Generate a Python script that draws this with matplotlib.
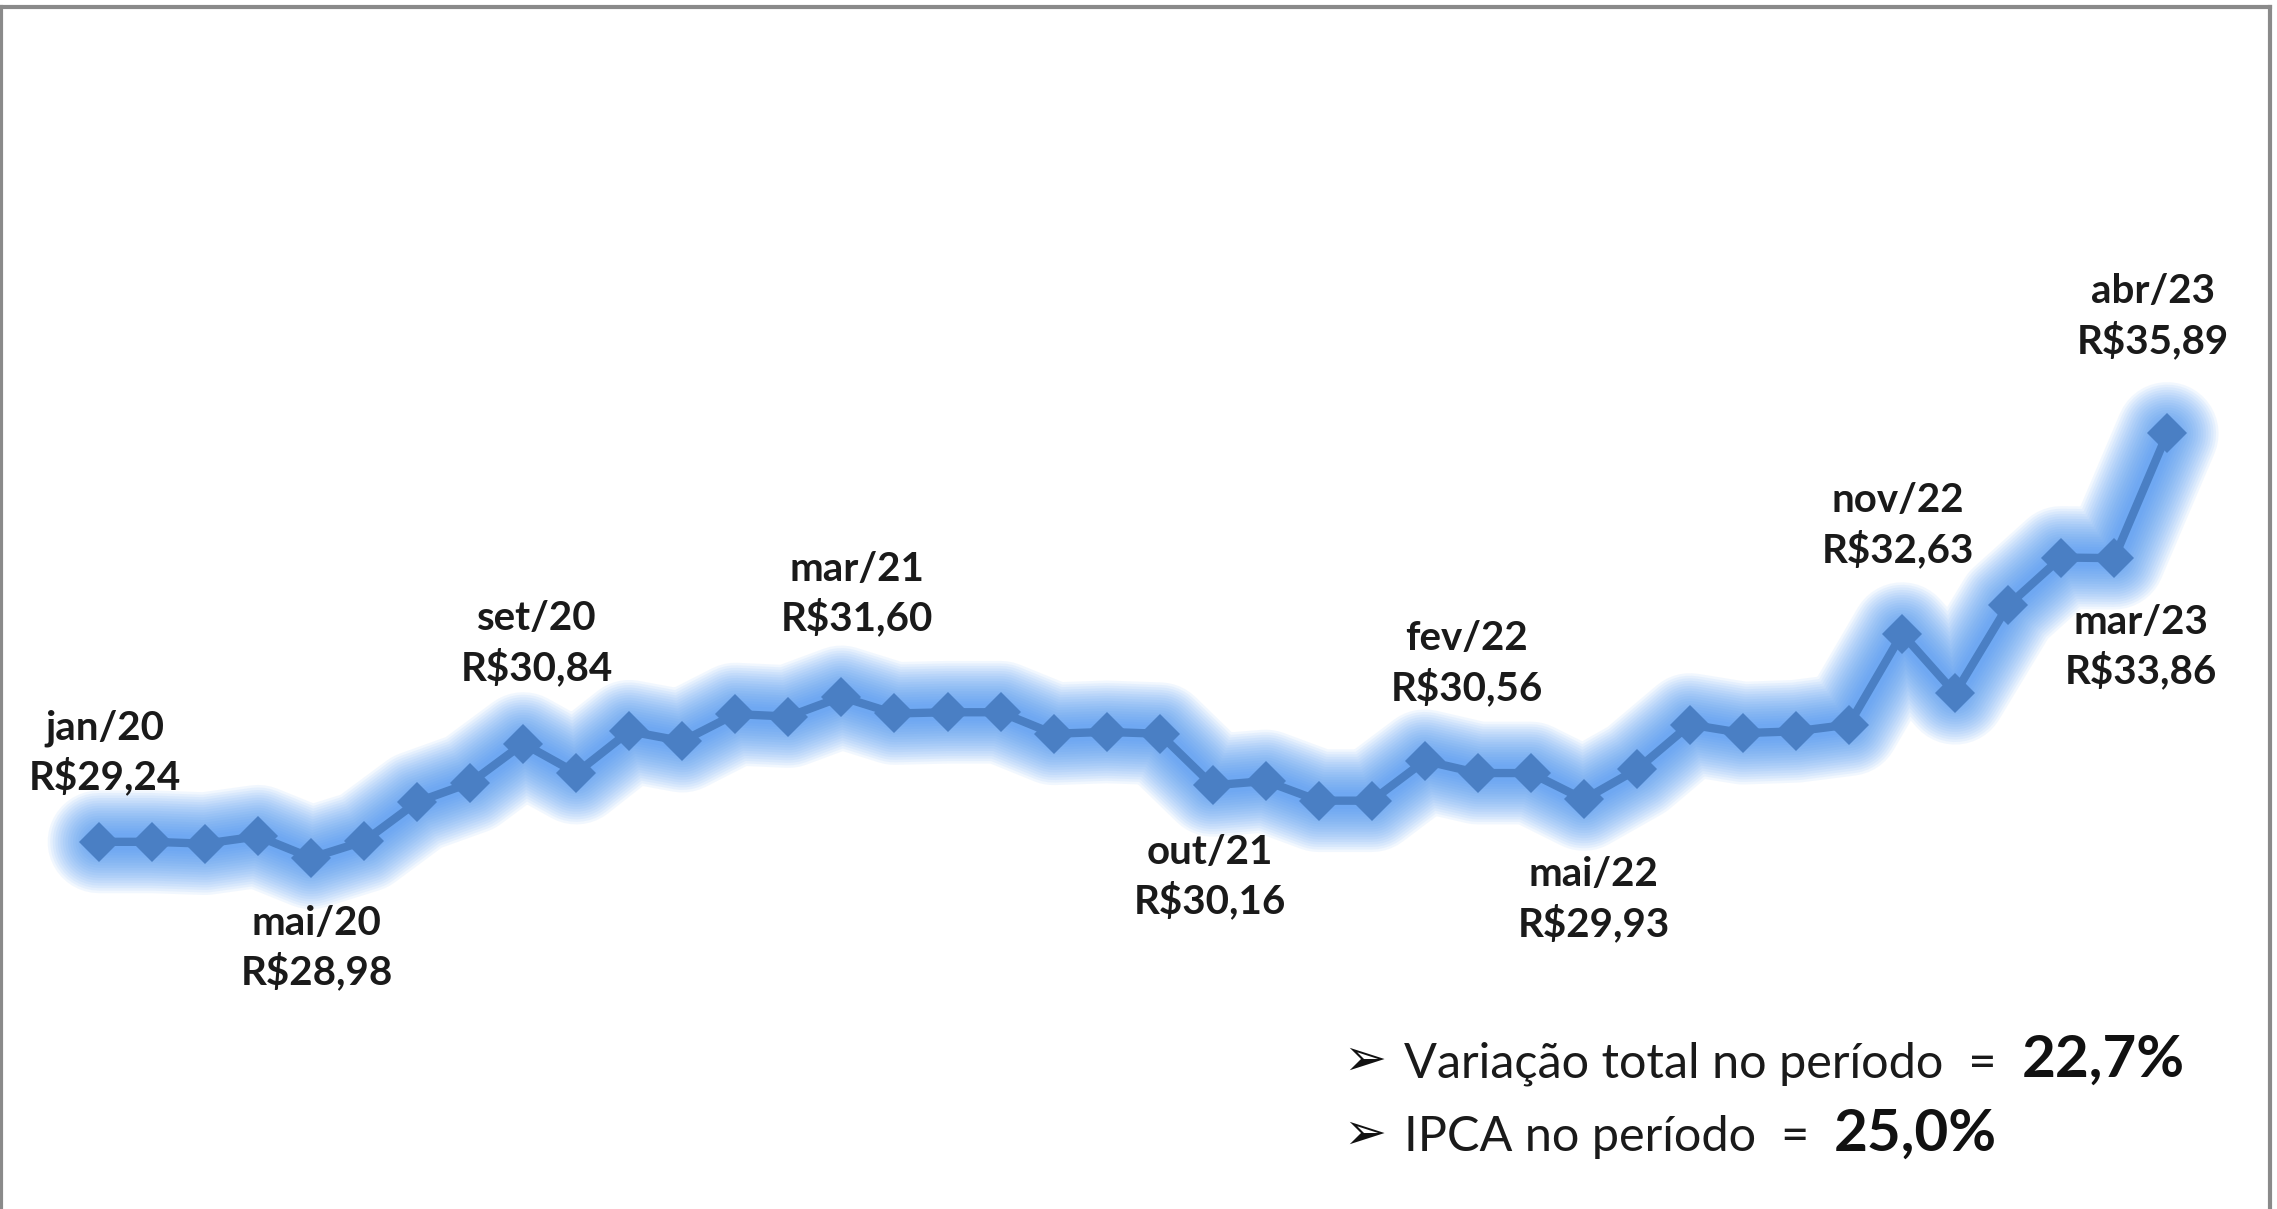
import numpy as np
import matplotlib
matplotlib.use("Agg")
import matplotlib.pyplot as plt
from matplotlib.lines import Line2D

# Monthly price, jan/20 .. abr/23
meses = ["jan", "fev", "mar", "abr", "mai", "jun", "jul", "ago", "set", "out", "nov", "dez"]
periodos = [f"{m}/{a}" for a in ["20", "21", "22", "23"] for m in meses][:40]
precos = [29.24, 29.24, 29.21, 29.33, 28.98, 29.25, 29.89, 30.20, 30.84, 30.36,
          31.04, 30.88, 31.32, 31.28, 31.60, 31.33, 31.35, 31.35, 31.00, 31.03,
          31.00, 30.16, 30.23, 29.91, 29.91, 30.56, 30.36, 30.36, 29.93, 30.42,
          31.15, 31.01, 31.04, 31.15, 32.63, 31.66, 33.09, 33.87, 33.86, 35.89]

# points that get a label
rotulos_idx = [0, 4, 8, 14, 21, 25, 28, 34, 38, 39]
rotulos_txt = ["R$29,24", "R$28,98", "R$30,84", "R$31,60", "R$30,16",
               "R$30,56", "R$29,93", "R$32,63", "R$33,86", "R$35,89"]
rotulos_off = [(4, 64), (4, -65), (10, 72), (11, 74), (-2, -66),
               (30, 70), (7, -72), (-3, 78), (19, -64), (-10, 84)]

variacao_total = "22,7%"
ipca_periodo = "25,0%"

fonte = ["Lato", "DejaVu Sans"]
plt.rcParams["font.family"] = fonte

fig = plt.figure(figsize=(22.77, 12.09), dpi=100)
ax = fig.add_axes([0, 0, 1, 1])
ax.set_xlim(-1.867, 41.07)
ax.set_ylim(23.26, 42.95)
ax.axis("off")

x = np.arange(len(precos))

# soft blue glow under the line
for lw in np.linspace(74, 12, 18):
    ax.plot(x, precos, color="#3b8cf2", lw=lw, alpha=0.065,
            solid_capstyle="round", solid_joinstyle="round", zorder=1)

ax.plot(x, precos, color="#4a7fc4", lw=6, marker="D", markersize=20,
        markeredgewidth=0, zorder=3)

for i, txt, off in zip(rotulos_idx, rotulos_txt, rotulos_off):
    ax.annotate(f"{periodos[i]}\n{txt}", xy=(i, precos[i]), xytext=off,
                textcoords="offset points", ha="center", va="center",
                fontsize=29, fontweight="bold", linespacing=1.35,
                color="#1a1a1a", zorder=4)

# summary text at the bottom right
linhas = [("Variação total no período  =  ", variacao_total, 1077),
          ("IPCA no período  =  ", ipca_periodo, 1151)]
H = 1209
for texto, valor, base in linhas:
    fig.text(1343 / 2277, 1 - (base - 2) / H, "➢", fontsize=37, va="baseline",
             family=["DejaVu Sans"], color="#111111")
    t1 = ax.annotate(texto, xy=(1404, H - base), xycoords="figure pixels",
                     va="baseline", ha="left", fontsize=35, color="#1a1a1a")
    ax.annotate(valor, xy=(1, H - base), xycoords=(t1, "figure pixels"),
                va="baseline", ha="left", fontsize=42, fontweight="bold",
                color="#111111")

# gray frame
for (x0, y0, x1, y1) in [(1, 7, 2270, 7), (1, 7, 1, 1209), (2270, 7, 2270, 1209)]:
    fig.add_artist(Line2D([x0 / 2277, x1 / 2277], [1 - y0 / H, 1 - y1 / H],
                          color="#8a8a8a", lw=3, transform=fig.transFigure))

fig.savefig("out.png", dpi=100, facecolor="white")
